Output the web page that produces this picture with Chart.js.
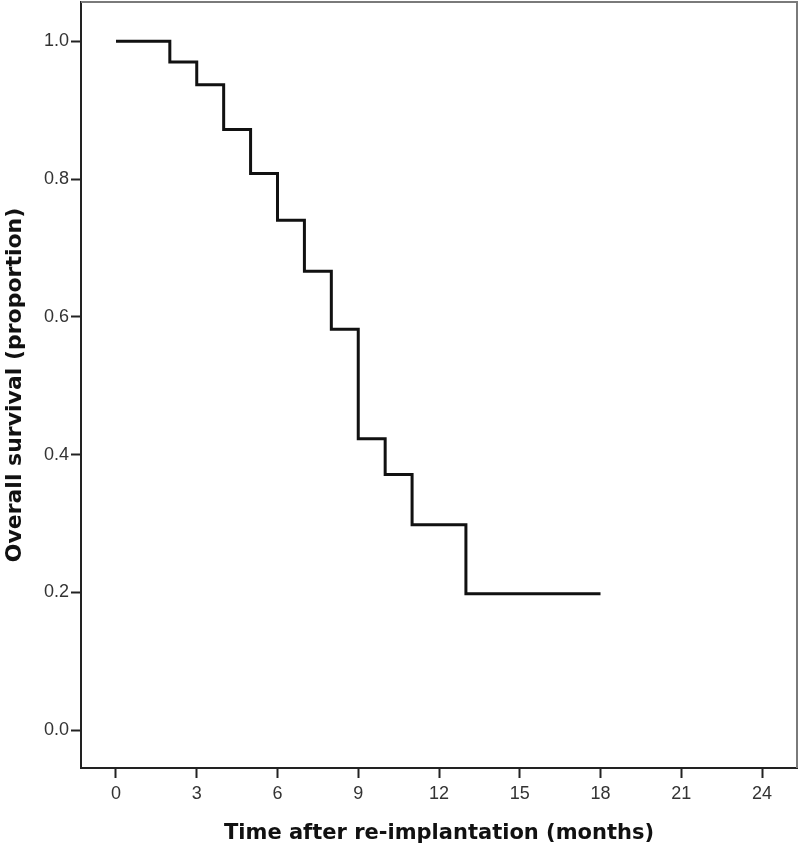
<!DOCTYPE html>
<html>
<head>
<meta charset="utf-8">
<script src="https://cdn.jsdelivr.net/npm/chart.js@4"></script>
<style>
  html, body { margin: 0; padding: 0; background: #fff; }
  #wrap { width: 800px; height: 851px; }
</style>
</head>
<body>
<div id="wrap"><canvas id="km"></canvas></div>
<script>
// Kaplan-Meier steps
const months = [0, 2, 3, 4, 5, 6, 7, 8, 9, 10, 11, 13, 18];
const survival = [1.0, 0.970, 0.937, 0.872, 0.808, 0.740, 0.666, 0.582, 0.423, 0.371, 0.298, 0.198, 0.198];
const xTicks = [0, 3, 6, 9, 12, 15, 18, 21, 24];
const yTicks = [0.0, 0.2, 0.4, 0.6, 0.8, 1.0];

const frame = {
  id: "frame",
  afterDraw(chart) {
    const a = chart.chartArea, c = chart.ctx;
    c.save();
    c.strokeStyle = "#7a7a7a";
    c.lineWidth = 2;
    c.beginPath();
    c.moveTo(a.left, a.top);
    c.lineTo(a.right, a.top);
    c.lineTo(a.right, a.bottom);
    c.stroke();
    c.restore();
  }
};

new Chart(document.getElementById("km"), {
  type: "line",
  data: {
    datasets: [{
      data: months.map((m, i) => ({ x: m, y: survival[i] })),
      borderColor: "#111",
      borderWidth: 3,
      stepped: "before",
      pointRadius: 0,
      fill: false
    }]
  },
  options: {
    responsive: true,
    maintainAspectRatio: false,
    animation: false,
    layout: { padding: { top: 2, right: 3 } },
    plugins: { legend: { display: false }, tooltip: { enabled: false } },
    scales: {
      x: {
        type: "linear",
        min: -1.3,
        max: 25.3,
        afterBuildTicks: s => { s.ticks = xTicks.map(v => ({ value: v })); },
        afterFit: s => { s.height = 83; s.paddingLeft = 0; s.paddingRight = 0; },
        grid: { drawOnChartArea: false, tickLength: 10, tickColor: "#222", tickWidth: 2 },
        border: { color: "#222", width: 2 },
        ticks: { color: "#333", padding: 5, font: { family: "Liberation Sans", size: 18 } },
        title: {
          display: true,
          text: "Time after re-implantation (months)",
          color: "#111",
          padding: { bottom: 5 },
          font: { family: "DejaVu Sans", size: 21, weight: "bold" }
        }
      },
      y: {
        min: -0.055,
        max: 1.057,
        afterBuildTicks: s => { s.ticks = yTicks.map(v => ({ value: v })); },
        afterFit: s => { s.width = 81; s.paddingTop = 0; s.paddingBottom = 0; },
        grid: { drawOnChartArea: false, tickLength: 10, tickColor: "#222", tickWidth: 2 },
        border: { color: "#222", width: 2 },
        ticks: { color: "#333", padding: 2, font: { family: "Liberation Sans", size: 18 }, callback: v => v.toFixed(1) },
        title: {
          display: true,
          text: "Overall survival (proportion)",
          color: "#111",
          padding: { top: 2 },
          font: { family: "DejaVu Sans", size: 22, weight: "bold" }
        }
      }
    }
  },
  plugins: [frame]
});
</script>
</body>
</html>
